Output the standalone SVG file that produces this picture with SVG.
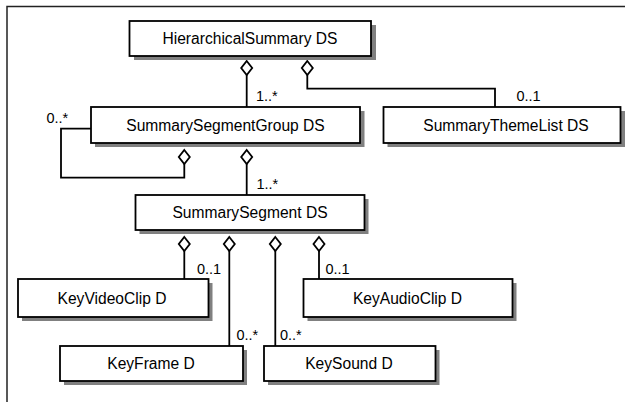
<svg xmlns="http://www.w3.org/2000/svg" width="625" height="402" viewBox="0 0 625 402">
<style>
.sh{fill:#808080;stroke:none}
.bx{fill:#fff;stroke:#000;stroke-width:1.8}
.t{font-family:"Liberation Sans",Arial,sans-serif;font-size:15.6px;fill:#000;text-anchor:middle}
.l{font-family:"Liberation Sans",Arial,sans-serif;font-size:14.5px;fill:#000}
.c{fill:none;stroke:#000;stroke-width:1.8}
.d{fill:#fff;stroke:#000;stroke-width:1.8}
</style>
<defs>
<path id="dia" d="M0,0 L5.5,7 L0,14 L-5.5,7 Z"/>
</defs>
<rect width="625" height="402" fill="#fff"/>
<path d="M7,402 V6.5 H625" fill="none" stroke="#222" stroke-width="1.5"/>

<g id="connectors">
<path class="c" d="M246.7,75 V107"/>
<path class="c" d="M307.3,75 V88.7 H495 V107"/>
<path class="c" d="M184.3,164 V177.7 H61 V128.7 H91"/>
<path class="c" d="M246.7,164 V195"/>
<path class="c" d="M184.3,251 V279"/>
<path class="c" d="M229.3,251 V346"/>
<path class="c" d="M275.3,251 V346"/>
<path class="c" d="M319,251 V279"/>
<use href="#dia" class="d" x="246.7" y="61"/>
<use href="#dia" class="d" x="307.3" y="61"/>
<use href="#dia" class="d" x="184.3" y="150"/>
<use href="#dia" class="d" x="246.7" y="150"/>
<use href="#dia" class="d" x="184.3" y="237"/>
<use href="#dia" class="d" x="229.3" y="237"/>
<use href="#dia" class="d" x="275.3" y="237"/>
<use href="#dia" class="d" x="319" y="237"/>
<text class="l" x="256" y="101">1..*</text>
<text class="l" x="516.5" y="101">0..1</text>
<text class="l" x="46.5" y="123">0..*</text>
<text class="l" x="256.5" y="189">1..*</text>
<text class="l" x="197" y="274">0..1</text>
<text class="l" x="236.5" y="340">0..*</text>
<text class="l" x="280" y="340">0..*</text>
<text class="l" x="325.5" y="274">0..1</text>
</g>

<g id="hierarchicalSummary">
<rect class="sh" x="134" y="25" width="242" height="35"/>
<rect class="bx" x="129.5" y="21" width="241.5" height="35"/>
<text class="t" x="250" y="44">HierarchicalSummary DS</text>
</g>
<g id="summarySegmentGroup">
<rect class="sh" x="95" y="111" width="269.5" height="36"/>
<rect class="bx" x="91" y="107" width="269" height="36"/>
<text class="t" x="225.5" y="131">SummarySegmentGroup DS</text>
</g>
<g id="summaryThemeList">
<rect class="sh" x="387.5" y="111" width="237.5" height="36"/>
<rect class="bx" x="383.5" y="107" width="237" height="36"/>
<text class="t" x="506" y="131">SummaryThemeList DS</text>
</g>
<g id="summarySegment">
<rect class="sh" x="139.5" y="199" width="229" height="35"/>
<rect class="bx" x="135.5" y="195" width="229" height="35"/>
<text class="t" x="250" y="218">SummarySegment DS</text>
</g>
<g id="keyVideoClip">
<rect class="sh" x="22" y="283" width="190.5" height="38"/>
<rect class="bx" x="18" y="279" width="190.5" height="38"/>
<text class="t" x="112" y="304">KeyVideoClip D</text>
</g>
<g id="keyAudioClip">
<rect class="sh" x="307.5" y="283" width="209" height="38"/>
<rect class="bx" x="303.5" y="279" width="209" height="38"/>
<text class="t" x="407.5" y="304">KeyAudioClip D</text>
</g>
<g id="keyFrame">
<rect class="sh" x="64" y="350" width="183" height="35"/>
<rect class="bx" x="60" y="346" width="183" height="35"/>
<text class="t" x="151" y="369">KeyFrame D</text>
</g>
<g id="keySound">
<rect class="sh" x="268" y="350" width="171.5" height="35"/>
<rect class="bx" x="264" y="346" width="171.5" height="35"/>
<text class="t" x="349" y="369">KeySound D</text>
</g>
</svg>
